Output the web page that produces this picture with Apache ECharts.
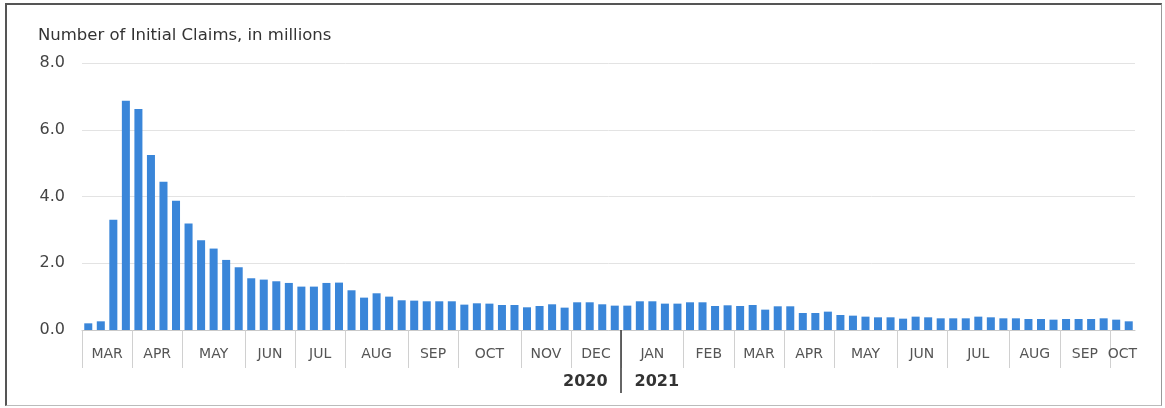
<!DOCTYPE html>
<html>
<head>
<meta charset="utf-8">
<title>Number of Initial Claims</title>
<script src="https://cdn.jsdelivr.net/npm/echarts@6/dist/echarts.min.js"></script>
<style>
  html, body { margin: 0; padding: 0; background: #fff; }
  #wrap { position: relative; width: 1165px; height: 408px; }
  #chart { position: absolute; left: 0; top: 0; width: 1165px; height: 408px; }
  #frame {
    position: absolute; left: 5px; top: 3px; width: 1154px; height: 400px;
    border-top: 2px solid #555; border-left: 2px solid #555;
    border-right: 1px solid #999; border-bottom: 1px solid #bbb;
    pointer-events: none;
  }
</style>
</head>
<body>
<div id="wrap">
  <div id="chart"></div>
  <div id="frame"></div>
</div>
<script>
// Weekly initial jobless claims, millions (week ending Saturday), Mar 2020 - Oct 2021
const firstWeekEnding = '2020-03-07';
const claims = [
  0.20, 0.26, 3.30, 6.87,             // MAR 2020
  6.62, 5.24, 4.44, 3.87,             // APR
  3.19, 2.69, 2.44, 2.10, 1.88,       // MAY
  1.55, 1.51, 1.46, 1.41,             // JUN
  1.30, 1.30, 1.41, 1.42,             // JUL
  1.19, 0.97, 1.10, 1.00, 0.89,       // AUG
  0.88, 0.86, 0.86, 0.86,             // SEP
  0.76, 0.80, 0.79, 0.75, 0.75,       // OCT
  0.68, 0.72, 0.77, 0.67,             // NOV
  0.83, 0.83, 0.77, 0.73,             // DEC
  0.73, 0.86, 0.86, 0.79, 0.79,       // JAN 2021
  0.83, 0.83, 0.72, 0.74,             // FEB
  0.72, 0.75, 0.61, 0.71,             // MAR
  0.71, 0.51, 0.51, 0.55,             // APR
  0.45, 0.43, 0.40, 0.38, 0.38,       // MAY
  0.34, 0.40, 0.38, 0.35,             // JUN
  0.35, 0.35, 0.40, 0.38, 0.35,       // JUL
  0.35, 0.33, 0.33, 0.31,             // AUG
  0.33, 0.33, 0.33, 0.35,             // SEP
  0.31, 0.26                          // OCT
];

// Month groups along the axis and how many weekly bars fall in each
const monthNames = ['MAR','APR','MAY','JUN','JUL','AUG','SEP','OCT','NOV','DEC',
                    'JAN','FEB','MAR','APR','MAY','JUN','JUL','AUG','SEP','OCT'];
const monthWeeks = [4,4,5,4,4,5,4,5,4,4, 5,4,4,4,5,4,5,4,4,2];

// Year labels and the week index where the new year starts
const yearLabels = ['2020', '2021'];
const yearBreakWeek = 43;

const yTicks = [0, 2, 4, 6, 8];

// Week-ending dates for the category axis
const weeks = claims.map(function (_, i) {
  const d = new Date(firstWeekEnding + 'T00:00:00Z');
  d.setUTCDate(d.getUTCDate() + 7 * i);
  return d.toISOString().slice(0, 10);
});

// Month boundaries and centres in week units
const monthStarts = [];
const monthCenters = [];
let acc = 0;
monthWeeks.forEach(function (n) {
  monthStarts.push(acc);
  monthCenters.push(acc + n / 2);
  acc += n;
});
const totalWeeks = acc;

const font = '"DejaVu Sans", "Open Sans", sans-serif';
const chart = echarts.init(document.getElementById('chart'), null, { renderer: 'canvas' });

chart.setOption({
  animation: false,
  title: {
    text: 'Number of Initial Claims, in millions',
    left: 38, top: 27, padding: 0,
    textStyle: { fontFamily: font, fontSize: 16.5, fontWeight: 'normal', color: '#333' }
  },
  grid: {
    left: 82, right: 30, top: 63, bottom: 78,
    containLabel: false, outerBoundsMode: 'none'
  },
  xAxis: [
    {
      type: 'category',
      data: weeks,
      position: 'bottom',
      axisLine: { show: true, lineStyle: { color: '#c9c9c9', width: 1 } },
      axisTick: { show: false },
      axisLabel: { show: false },
      splitLine: { show: false }
    },
    {
      type: 'value',
      min: 0, max: totalWeeks,
      position: 'bottom',
      axisLine: { show: false },
      splitLine: { show: false },
      axisTick: {
        show: true, length: 38, inside: false,
        customValues: monthStarts,
        lineStyle: { color: '#d0d0d0', width: 1 }
      },
      axisLabel: {
        show: true, margin: 17,
        customValues: monthCenters,
        formatter: function (v) {
          const idx = monthCenters.indexOf(v);
          return idx >= 0 ? monthNames[idx] : '';
        },
        fontFamily: font, fontSize: 14, color: '#555'
      }
    },
    {
      type: 'value',
      min: 0, max: totalWeeks,
      position: 'bottom',
      axisLine: { show: false },
      splitLine: { show: false },
      axisTick: {
        show: true, length: 63,
        customValues: [yearBreakWeek],
        lineStyle: { color: '#333', width: 1.5 }
      },
      axisLabel: {
        show: true, margin: 44,
        customValues: [yearBreakWeek],
        formatter: function () {
          return '{a|' + yearLabels[0] + '}{b|' + yearLabels[1] + '}';
        },
        rich: {
          a: { fontFamily: font, fontSize: 16, fontWeight: 'bold', color: '#333', padding: [0, 14, 0, 0] },
          b: { fontFamily: font, fontSize: 16, fontWeight: 'bold', color: '#333', padding: [0, 0, 0, 13] }
        }
      }
    }
  ],
  yAxis: {
    type: 'value',
    min: yTicks[0], max: yTicks[yTicks.length - 1], interval: 2,
    axisLine: { show: false },
    axisTick: { show: false },
    splitLine: { show: true, lineStyle: { color: '#e3e3e3', width: 1 } },
    axisLabel: {
      margin: 17,
      formatter: function (v) { return v.toFixed(1); },
      fontFamily: font, fontSize: 16, color: '#444'
    }
  },
  series: [{
    type: 'bar',
    xAxisIndex: 0,
    data: claims,
    barCategoryGap: '36%',
    itemStyle: { color: '#3a86d9' }
  }]
});
</script>
</body>
</html>
